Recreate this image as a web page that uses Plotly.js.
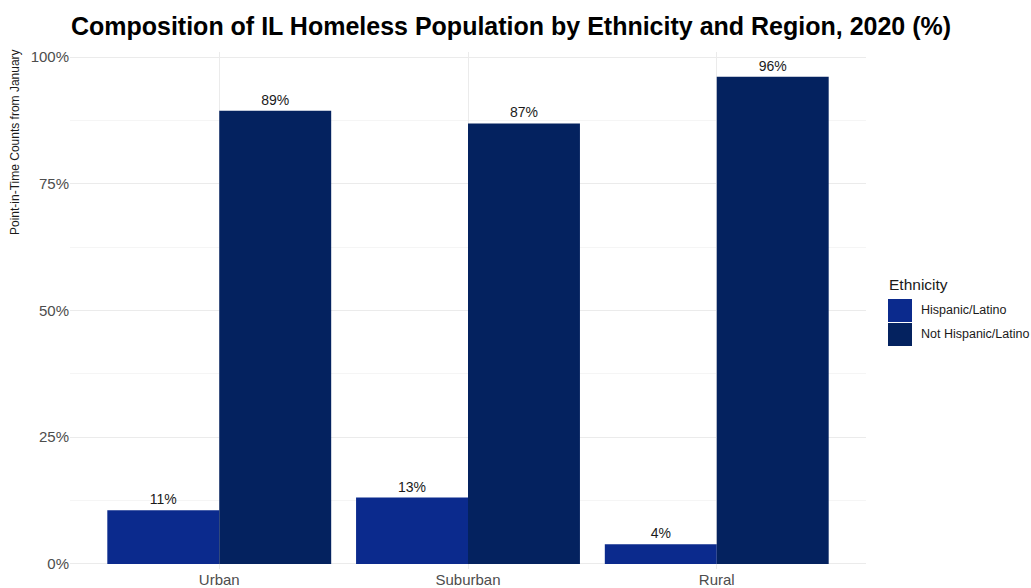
<!DOCTYPE html>
<html>
<head>
<meta charset="utf-8">
<script src="https://cdn.plot.ly/plotly-3.0.1.min.js"></script>
<style>html,body{margin:0;padding:0;background:#fff;}#chart{width:1031px;height:588px;}</style>
</head>
<body>
<div id="chart"></div>
<script>
const regions = ["Urban", "Suburban", "Rural"];
const seriesNames = ["Hispanic/Latino", "Not Hispanic/Latino"];
const hispanic = [10.6, 13.1, 3.9];
const notHispanic = [89.4, 86.9, 96.1];
const colors = ["#0b2a8d", "#04225f"];
const yTickVals = [0, 25, 50, 75, 100];
const yTickText = ["0%", "25%", "50%", "75%", "100%"];
const yTitle = "Point-in-Time Counts from January";
const legendTitle = "Ethnicity";

const FONT = "Liberation Sans, Arial, sans-serif";
const seriesValues = [hispanic, notHispanic];
const traces = seriesNames.map((name, i) => ({
  type: "bar",
  name: name,
  x: regions,
  y: seriesValues[i],
  marker: {color: colors[i], line: {width: 0}},
  text: seriesValues[i].map(v => Math.round(v) + "%"),
  textposition: "outside",
  textfont: {family: FONT, size: 14, color: "#1a1a1a"},
  cliponaxis: false,
  showlegend: false,
  hoverinfo: "x+y+name"
}));

const L = 70, R = 866, T = 52, B = 569;
const px = v => (v - L) / (R - L);
const py = v => (B - v) / (B - T);

const shapes = [];
const annotations = [
  {
    xref: "paper", yref: "paper", x: px(15), y: py(142), xanchor: "center", yanchor: "middle",
    text: yTitle, textangle: -90, showarrow: false,
    font: {family: FONT, size: 12, color: "#1a1a1a"}
  },
  {
    xref: "paper", yref: "paper", x: px(887), y: py(284), xanchor: "left", yanchor: "middle",
    text: legendTitle, showarrow: false,
    font: {family: FONT, size: 15.5, color: "#1a1a1a"}
  }
];
seriesNames.forEach((name, i) => {
  const top = 299 + i * 24;
  shapes.push({
    type: "rect", xref: "paper", yref: "paper",
    x0: px(888), x1: px(912), y0: py(top + 23), y1: py(top),
    fillcolor: colors[i], line: {width: 0}
  });
  annotations.push({
    xref: "paper", yref: "paper", x: px(919), y: py(top + 11), xanchor: "left", yanchor: "middle",
    text: name, showarrow: false,
    font: {family: FONT, size: 12.5, color: "#1a1a1a"}
  });
});

const layout = {
  width: 1031, height: 588,
  margin: {l: L, r: 1031 - R, t: T, b: 588 - B, pad: 0},
  paper_bgcolor: "#ffffff", plot_bgcolor: "#ffffff",
  barmode: "group", bargap: 0.1, bargroupgap: 0,
  showlegend: false,
  title: {
    text: "<b>Composition of IL Homeless Population by Ethnicity and Region, 2020 (%)</b>",
    x: 511 / 1031, xref: "container", xanchor: "center", y: 0.955, yref: "container", yanchor: "middle",
    font: {family: FONT, size: 25, color: "#000000"}
  },
  font: {family: FONT},
  xaxis: {
    type: "category", range: [-0.6, 2.6], automargin: false,
    showgrid: true, gridcolor: "#ebebeb", gridwidth: 1,
    zeroline: false, showline: false, ticks: "", ticklen: 0,
    tickfont: {size: 15, color: "#4d4d4d"}
  },
  yaxis: {
    range: [-1, 101], automargin: false,
    tickmode: "array", tickvals: yTickVals, ticktext: yTickText,
    showgrid: true, gridcolor: "#ebebeb", gridwidth: 1,
    minor: {dtick: 12.5, tick0: 0, showgrid: true, gridcolor: "#f5f5f5", gridwidth: 1},
    zeroline: false, showline: false, ticks: "", ticklen: 3, tickcolor: "#ffffff",
    tickfont: {size: 15, color: "#4d4d4d"}
  },
  shapes: shapes,
  annotations: annotations
};

Plotly.newPlot("chart", traces, layout, {displayModeBar: false, staticPlot: true});
</script>
</body>
</html>
